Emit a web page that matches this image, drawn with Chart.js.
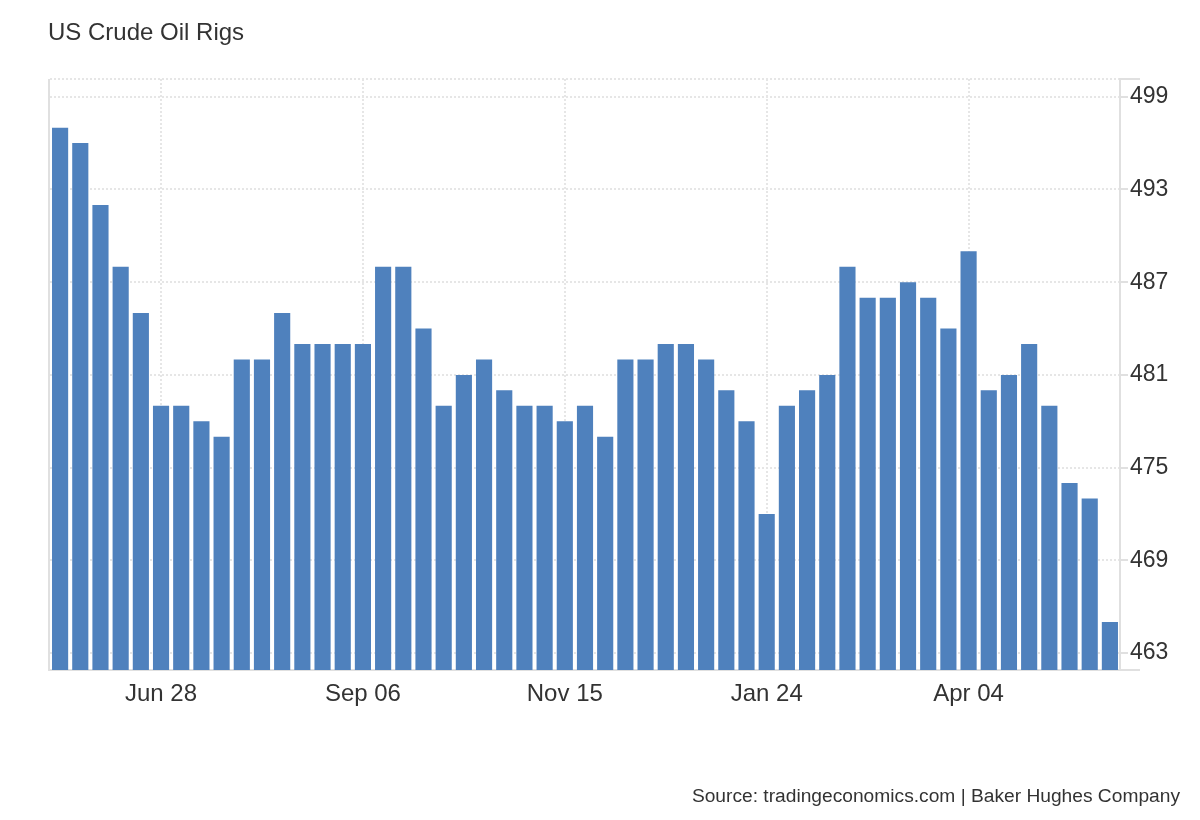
<!DOCTYPE html>
<html>
<head>
<meta charset="utf-8">
<script src="https://cdn.jsdelivr.net/npm/chart.js@4"></script>
<style>
  body { margin: 0; background: #fff; font-family: "Liberation Sans", Arial, sans-serif; color: #333; }
  #wrap { position: relative; width: 1200px; height: 820px; }
  #title { position: absolute; left: 48px; top: 20px; font-size: 24px; line-height: 24px; }
  #source { position: absolute; right: 20px; top: 786px; font-size: 19.2px; line-height: 19px; }
  canvas { position: absolute; left: 0; top: 0; }
</style>
</head>
<body>
<div id="wrap">
  <canvas id="myChart" width="1200" height="820"></canvas>
  <div id="title">US Crude Oil Rigs</div>
  <div id="source">Source: tradingeconomics.com | Baker Hughes Company</div>
</div>
<script>
// weekly dates, May 24 to May 23
const weeks = [
  "May 24", "May 31", "Jun 07", "Jun 14", "Jun 21", "Jun 28", "Jul 05", "Jul 12", "Jul 19", "Jul 26",
  "Aug 02", "Aug 09", "Aug 16", "Aug 23", "Aug 30", "Sep 06", "Sep 13", "Sep 20", "Sep 27", "Oct 04",
  "Oct 11", "Oct 18", "Oct 25", "Nov 01", "Nov 08", "Nov 15", "Nov 22", "Nov 29", "Dec 06", "Dec 13",
  "Dec 20", "Dec 27", "Jan 03", "Jan 10", "Jan 17", "Jan 24", "Jan 31", "Feb 07", "Feb 14", "Feb 21",
  "Feb 28", "Mar 07", "Mar 14", "Mar 21", "Mar 28", "Apr 04", "Apr 11", "Apr 18", "Apr 25", "May 02",
  "May 09", "May 16", "May 23"
];

const rigs = [
  497, 496, 492, 488, 485, 479, 479, 478, 477, 482,
  482, 485, 483, 483, 483, 483, 488, 488, 484, 479,
  481, 482, 480, 479, 479, 478, 479, 477, 482, 482,
  483, 483, 482, 480, 478, 472, 479, 480, 481, 488,
  486, 486, 487, 486, 484, 489, 480, 481, 483, 479,
  474, 473, 465
];

const shownWeeks = ["Jun 28", "Sep 06", "Nov 15", "Jan 24", "Apr 04"];
const yTicks = [463, 469, 475, 481, 487, 493, 499];
const yMin = 461.9;
const yMax = 500.15;

const font = "'Liberation Sans', Arial, sans-serif";
const gridColor = "#e6e6e6";
const axisColor = "#e0e0e0";

// left border of the plot and the little axis overhangs
const frameLines = {
  id: "frameLines",
  afterDraw(chart) {
    const a = chart.chartArea;
    const c = chart.ctx;
    c.save();
    c.strokeStyle = axisColor;
    c.lineWidth = 2;
    c.beginPath();
    c.moveTo(a.left - 1, a.top);
    c.lineTo(a.left - 1, a.bottom);
    c.moveTo(a.left - 2, a.bottom);
    c.lineTo(a.left, a.bottom);
    c.moveTo(a.right, a.bottom);
    c.lineTo(a.right + 20, a.bottom);
    c.moveTo(a.right, a.top);
    c.lineTo(a.right + 20, a.top);
    c.stroke();
    c.restore();
  }
};

new Chart("myChart", {
  type: "bar",
  data: {
    labels: weeks,
    datasets: [{
      data: rigs,
      backgroundColor: "#4f81bd",
      barPercentage: 0.8,
      categoryPercentage: 1.0
    }]
  },
  options: {
    responsive: false,
    animation: false,
    devicePixelRatio: 1,
    layout: { padding: { left: 50, top: 79, right: 0, bottom: 0 } },
    plugins: { legend: { display: false }, tooltip: { enabled: false } },
    scales: {
      x: {
        afterFit: s => { s.height = 150; },
        grid: {
          offset: false,
          drawTicks: false,
          lineWidth: 2,
          color: ctx => shownWeeks.includes(weeks[ctx.index]) ? gridColor : "rgba(0,0,0,0)"
        },
        border: { color: axisColor, width: 2, dash: [2, 2] },
        ticks: {
          autoSkip: false,
          maxRotation: 0,
          padding: 10,
          color: "#333",
          font: { size: 24, family: font },
          callback: (v, i) => shownWeeks.includes(weeks[i]) ? weeks[i] : ""
        }
      },
      y: {
        position: "right",
        min: yMin,
        max: yMax,
        afterBuildTicks: s => { s.ticks = yTicks.concat([yMax]).map(v => ({ value: v })); },
        afterFit: s => { s.width = 80; },
        grid: {
          color: gridColor,
          lineWidth: 2,
          tickLength: 8,
          tickColor: axisColor
        },
        border: { color: axisColor, width: 2, dash: [2, 2] },
        ticks: {
          padding: 2,
          color: "#333",
          font: { size: 23, family: font },
          callback: v => v === yMax ? "" : v
        }
      }
    }
  },
  plugins: [frameLines]
});
</script>
</body>
</html>
